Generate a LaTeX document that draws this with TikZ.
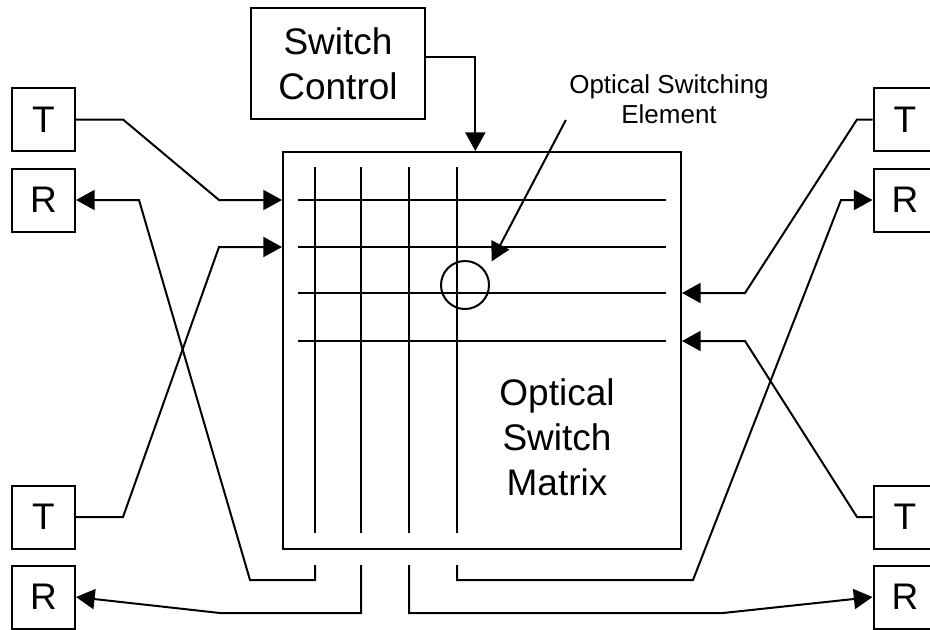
\documentclass[tikz,border=0pt]{standalone}
\usepackage{fontspec}
\setmainfont{Liberation Sans}
\usetikzlibrary{arrows.meta,positioning}
\newcommand{\pxu}{0.75pt}

\begin{document}
\begin{tikzpicture}[x=0.75pt,y=-0.75pt,line width=1.5pt,
  >={Triangle[length=14pt,width=15pt]},
  trbox/.style={draw,minimum width=63*\pxu,minimum height=63*\pxu,inner sep=0pt,
    font=\fontsize{27.75}{33.3}\selectfont},
  bigtext/.style={align=center,font=\fontsize{27.75}{33.8}\selectfont},
  smalltext/.style={align=center,font=\fontsize{19.5}{22.5}\selectfont}]
  \useasboundingbox (0,0) rectangle (930,629);

  \node[trbox] (tL1) at (43.5,119.5) {T};
  \node[trbox] (rL1) at (43.5,200) {R};
  \node[trbox] (tL2) at (43.5,517) {T};
  \node[trbox] (rL2) at (43.5,597) {R};
  \node[trbox] (tR1) at (905,119.5) {T};
  \node[trbox] (rR1) at (905,200) {R};
  \node[trbox] (tR2) at (905,517) {T};
  \node[trbox] (rR2) at (905,597) {R};

  \node[draw,bigtext,minimum width=174*\pxu,minimum height=111*\pxu] (sw) at (338,63.5) {Switch\\Control};
  \node[draw,minimum width=398*\pxu,minimum height=397*\pxu] (osm) at (482,350.5) {};
  \node[bigtext] (osmlbl) at (557,437) {Optical\\Switch\\Matrix};

  \foreach \x [count=\i] in {315,361,409,457} {
    \draw (\x,167) -- (\x,533);
    \coordinate (o\i) at (\x,565);
  }
  \foreach \y [count=\i] in {200,247,293,341}
    \draw (298,\y) coordinate (h\i) -- (666,\y);

  \node[circle,draw,minimum size=48*\pxu,inner sep=0pt] (ose) at (465,285) {};
  \node[smalltext] (oselbl) at (669,99) {Optical Switching\\Element};

  \draw[->] ([yshift=5pt]sw.east) -| ([xshift=-5pt]osm.north);
  \draw[->] ([shift={(2,-9)}]oselbl.south west) -- ([shift={(9,-6)}]ose.north east);

  \draw[->] (tL1.east) -- (123,119.5) -- (219,200) -- (osm.west |- h1);
  \draw[->] (tL2.east) -- (123,517) -- (219,247) -- (osm.west |- h2);
  \draw[->] (tR1.west) -- (857,119.5) -- (745,293) -- (osm.east |- h3);
  \draw[->] (tR2.west) -- (857,517) -- (745,341) -- (osm.east |- h4);

  \draw[->] (o1) -- (315,580) -- (250,580) -- (139,200) -- (rL1.east);
  \draw[->] (o2) -- (361,613) -- (220,613) -- (rL2.east);
  \draw[->] (o3) -- (409,613) -- (723,613) -- (rR2.west);
  \draw[->] (o4) -- (457,580) -- (693,580) -- (841,200) -- (rR1.west);
\end{tikzpicture}
\end{document}
